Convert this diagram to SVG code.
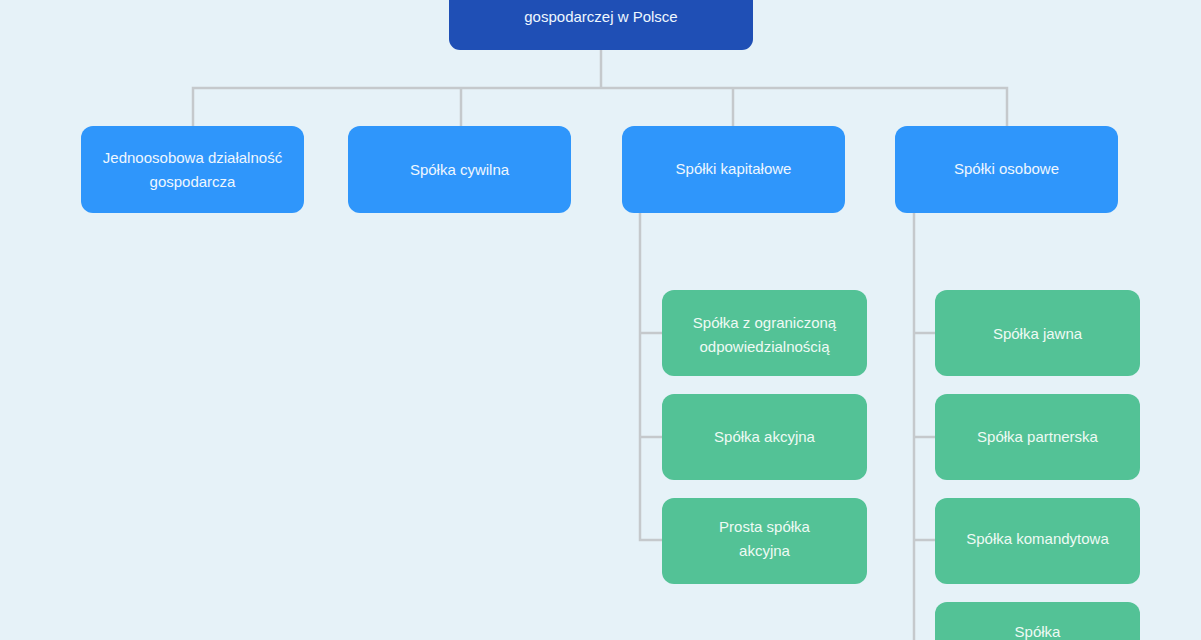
<svg xmlns="http://www.w3.org/2000/svg" width="1201" height="640" viewBox="0 0 1201 640">
<style>
.root{fill:#1f4fb5}
.l1{fill:#2f96fb}
.l2{fill:#53c296}
.t{font-family:"Liberation Sans",Arial,sans-serif;font-size:15px;text-anchor:middle;fill:#eef7ff}
.tg{font-family:"Liberation Sans",Arial,sans-serif;font-size:15px;text-anchor:middle;fill:#eefaf4}
.c{fill:none;stroke:#c5c9cc;stroke-width:2.5}
</style>
<rect width="1201" height="640" fill="#e6f2f8"/>
<g id="connectors">
<path class="c" d="M601 50V88M193 126V88H1007V126M461 88V126M733 88V126"/>
<path class="c" d="M640 213V540H662M640 333H662M640 437H662"/>
<path class="c" d="M914 213V640M914 333H935M914 437H935M914 540H935"/>
</g>
<g id="root">
<rect class="root" x="449" y="-40" width="304" height="90" rx="11"/>
<text class="t" x="601" y="22">gospodarczej w Polsce</text>
</g>
<g id="jdg">
<rect class="l1" x="81" y="126" width="223" height="87" rx="12"/>
<text class="t" x="192.5" y="163">Jednoosobowa działalność</text>
<text class="t" x="192.5" y="187">gospodarcza</text>
</g>
<g id="cywilna">
<rect class="l1" x="348" y="126" width="223" height="87" rx="12"/>
<text class="t" x="459.5" y="175">Spółka cywilna</text>
</g>
<g id="kapitalowe">
<rect class="l1" x="622" y="126" width="223" height="87" rx="12"/>
<text class="t" x="733.5" y="174">Spółki kapitałowe</text>
</g>
<g id="osobowe">
<rect class="l1" x="895" y="126" width="223" height="87" rx="12"/>
<text class="t" x="1006.5" y="174">Spółki osobowe</text>
</g>
<g id="zoo">
<rect class="l2" x="662" y="290" width="205" height="86" rx="12"/>
<text class="tg" x="764.5" y="328">Spółka z ograniczoną</text>
<text class="tg" x="764.5" y="352">odpowiedzialnością</text>
</g>
<g id="sa">
<rect class="l2" x="662" y="394" width="205" height="86" rx="12"/>
<text class="tg" x="764.5" y="442">Spółka akcyjna</text>
</g>
<g id="psa">
<rect class="l2" x="662" y="498" width="205" height="86" rx="12"/>
<text class="tg" x="764.5" y="532">Prosta spółka</text>
<text class="tg" x="764.5" y="556">akcyjna</text>
</g>
<g id="jawna">
<rect class="l2" x="935" y="290" width="205" height="86" rx="12"/>
<text class="tg" x="1037.5" y="339">Spółka jawna</text>
</g>
<g id="partnerska">
<rect class="l2" x="935" y="394" width="205" height="86" rx="12"/>
<text class="tg" x="1037.5" y="442">Spółka partnerska</text>
</g>
<g id="komandytowa">
<rect class="l2" x="935" y="498" width="205" height="86" rx="12"/>
<text class="tg" x="1037.5" y="544">Spółka komandytowa</text>
</g>
<g id="ska">
<rect class="l2" x="935" y="602" width="205" height="86" rx="12"/>
<text class="tg" x="1037.5" y="637">Spółka</text>
</g>
</svg>
